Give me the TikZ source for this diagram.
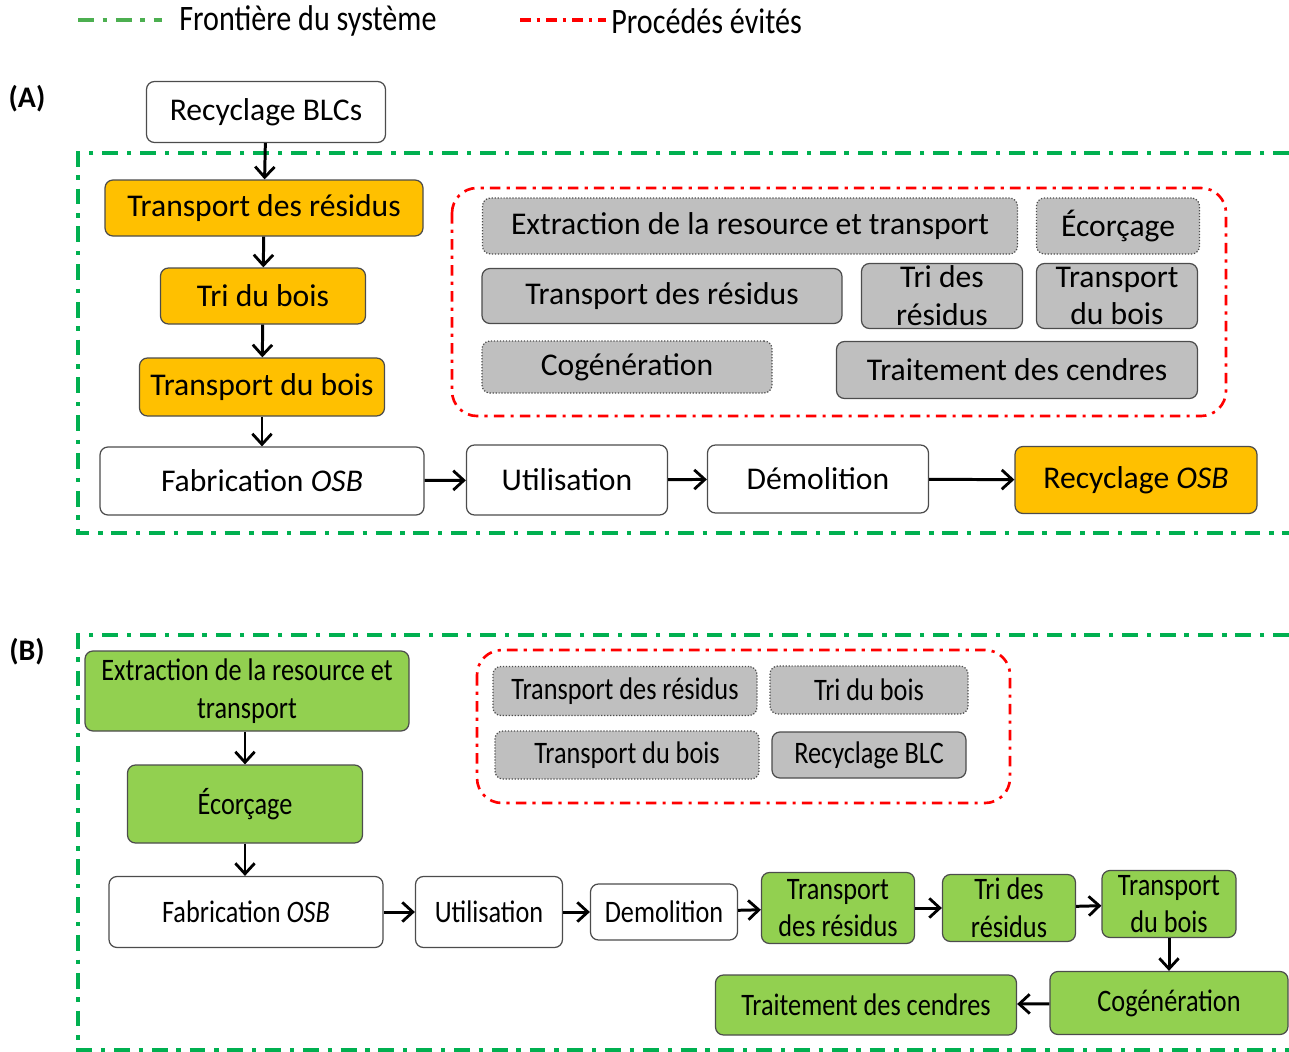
\documentclass[tikz,border=0pt]{standalone}
\usepackage{fontspec}
\setmainfont{Carlito}
\newfontfamily\cond{Carlito}[FakeStretch=0.84]
\usetikzlibrary{arrows.meta}
\definecolor{orng}{HTML}{FFC000}
\definecolor{grn}{HTML}{92D050}
\definecolor{grayf}{HTML}{BFBFBF}
\definecolor{frgreen}{HTML}{00B050}
\definecolor{lgreen}{HTML}{4CAF50}
\tikzset{
 base/.style={rounded corners=0.16cm, draw=gray!60!black, line width=0.7pt, align=center, inner sep=0pt, font=\fontsize{18}{21.5}\selectfont},
 sz/.style 2 args={minimum width=#1*0.02cm, minimum height=#2*0.02cm},
 wbox/.style={base, fill=white},
 obox/.style={base, fill=orng},
 gdbox/.style={base, fill=grayf, densely dotted},
 gsbox/.style={base, fill=grayf},
 bf/.style={font=\cond\fontsize{17.8}{21.5}\selectfont},
 grbox/.style={base, fill=grn, bf},
 arr/.style={-{Straight Barb[length=6pt,width=11pt,line width=1.6pt]}, line width=1.7pt},
 sysframe/.style={draw=frgreen, line width=2.2pt, dash pattern=on 9pt off 5pt on 2.5pt off 5pt},
 avoid/.style={draw=red, line width=1.5pt, dash pattern=on 6pt off 3.5pt on 1.8pt off 3.5pt, rounded corners=0.5cm},
 lbl/.style={font=\bfseries\fontsize{17}{20}\selectfont, inner sep=0pt},
 legtxt/.style={font=\cond\fontsize{20.4}{24}\selectfont, inner sep=0pt, anchor=west},
}
\begin{document}
\begin{tikzpicture}[x=0.02cm,y=-0.02cm]
\useasboundingbox (0,0) rectangle (1289,1052);
% legend
\coordinate (lg1) at (78,20); \coordinate (lg2) at (162,20);
\draw[sysframe, draw=lgreen] (lg1) -- (lg2);
\node[legtxt] (legA) at (179,21) {Frontière du système};
\coordinate (lr1) at (520,20); \coordinate (lr2) at (606,20);
\draw[avoid, line width=2.2pt] (lr1) -- (lr2);
\node[legtxt] (legB) at (611,21) {Procédés évités};
% labels
\node[lbl] (labA) at (27,99) {(A)};
\node[lbl] (labB) at (27,652) {(B)};
% ===== Part A =====
\draw[sysframe] (1289,153) -- (78,153) -- (78,533) -- (1289,533);
\draw[avoid] (452,188) rectangle (1226,416);
\node[wbox, sz={239}{61}] (blc) at (266,112) {Recyclage BLCs};
\node[obox, sz={318}{56}] (trres) at (264,208) {Transport des résidus};
\node[obox, sz={205}{56}] (tri) at (263,296) {Tri du bois};
\node[obox, sz={245}{58}] (trbois) at (262,387) {Transport du bois};
\node[wbox, sz={324}{68}] (fab) at (262,481) {Fabrication \textit{OSB}};
\node[wbox, sz={201}{70}] (util) at (567,480) {Utilisation};
\node[wbox, sz={221}{68}] (demo) at (818,479) {Démolition};
\node[obox, sz={242}{67}] (recosb) at (1136,480) {Recyclage \textit{OSB}};
\draw[arr] (blc) -- (trres);
\draw[arr] (trres) -- (tri);
\draw[arr] (tri) -- (trbois);
\draw[arr] (trbois) -- (trbois|-fab.north);
\draw[arr] (fab) -- (util);
\draw[arr] (util) -- (demo);
\draw[arr] (demo) -- (recosb);
% avoided A
\node[gdbox, sz={535}{56}] (ga1) at (750,226) {Extraction de la resource et transport};
\node[gdbox, sz={163}{56}] (ga2) at (1118,226) {Écorçage};
\node[gsbox, sz={360}{55}] (ga3) at (662,296) {Transport des résidus};
\node[gsbox, sz={161}{65}] (ga4) at (942,296) {Tri des\\résidus};
\node[gsbox, sz={161}{65}] (ga5) at (1117,296) {Transport\\du bois};
\node[gdbox, sz={290}{52}] (ga6) at (627,367) {Cogénération};
\node[gsbox, sz={361}{57}] (ga7) at (1017,370) {Traitement des cendres};
% ===== Part B =====
\draw[sysframe] (1289,635) -- (78,635) -- (78,1050) -- (1289,1050);
\draw[avoid] (477,650) rectangle (1010,803);
\node[grbox, sz={324}{80}] (bext) at (247,691) {Extraction de la resource et\\transport};
\node[grbox, sz={235}{78}] (becor) at (245,804) {Écorçage};
\node[wbox, bf, sz={274}{71}] (bfab) at (246,912) {Fabrication \textit{OSB}};
\node[wbox, bf, sz={147}{71}] (butil) at (489,912) {Utilisation};
\node[wbox, bf, sz={147}{56}] (bdemo) at (664,912) {Demolition};
\node[grbox, sz={153}{71}] (btrres) at (838,908) {Transport\\des résidus};
\node[grbox, sz={133}{67}] (btri) at (1009,908) {Tri des\\résidus};
\node[grbox, sz={134}{67}] (btrbois) at (1169,904) {Transport\\du bois};
\node[grbox, sz={238}{63}] (bcog) at (1169,1003) {Cogénération};
\node[grbox, sz={301}{60}] (btrait) at (866,1005) {Traitement des cendres};
\draw[arr] (bext.south-|becor) -- (becor);
\draw[arr] (becor) -- (becor|-bfab.north);
\draw[arr] (bfab) -- (butil);
\draw[arr] (butil) -- (bdemo);
\draw[arr] (bdemo) -- (btrres);
\draw[arr] (btrres) -- (btri);
\draw[arr] (btri) -- (btrbois);
\draw[arr] (btrbois) -- (bcog);
\draw[arr] (bcog) -- (btrait);
% avoided B
\node[gdbox, bf, sz={264}{49}] (gb1) at (625,691) {Transport des résidus};
\node[gdbox, bf, sz={198}{48}] (gb2) at (869,690) {Tri du bois};
\node[gdbox, bf, sz={264}{48}] (gb3) at (627,755) {Transport du bois};
\node[gsbox, bf, sz={194}{46}] (gb4) at (869,755) {Recyclage BLC};
\end{tikzpicture}
\end{document}
